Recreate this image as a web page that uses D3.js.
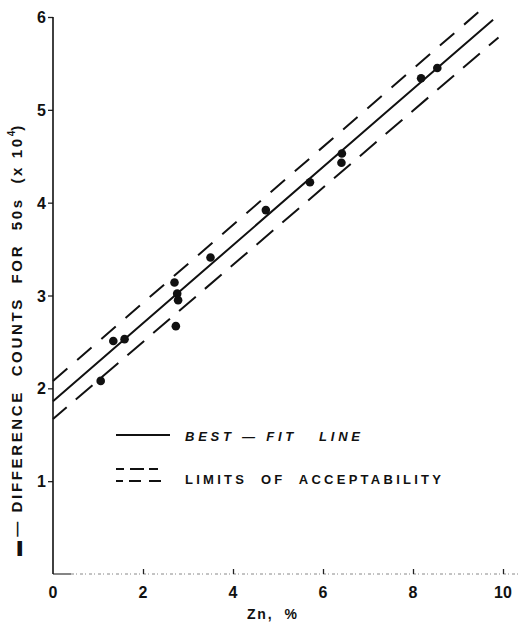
<!DOCTYPE html>
<html>
<head>
<meta charset="utf-8">
<script src="https://cdn.jsdelivr.net/npm/d3@7"></script>
<style>
  html, body { margin: 0; padding: 0; background: #fff; }
  svg { display: block; }
  text { font-family: "Liberation Sans", Arial, sans-serif; fill: #111; white-space: pre; }
</style>
</head>
<body>
<svg id="chart" width="521" height="631"></svg>
<script>
// Zn content (%) of each measured sample
const znPercent = [1.06, 1.34, 1.59, 2.70, 2.76, 2.78, 2.73, 3.50, 4.73, 5.71, 6.42, 6.41, 8.18, 8.54];
// Difference counts for 50 s, in units of 10^4
const diffCounts = [2.08, 2.51, 2.53, 3.14, 3.02, 2.95, 2.67, 3.41, 3.92, 4.22, 4.53, 4.43, 5.34, 5.45];

// Best-fit line and limits of acceptability, as [Zn %, counts] vertices
const bestFit = [[0, 1.86], [7.3, 4.93], [9.78, 5.97]];
const upperLimit = [[0, 2.08], [9.45, 6.05]];
const lowerLimit = [[0, 1.67], [9.9, 5.78]];

const xTicks = [0, 2, 4, 6, 8, 10];
const yTicks = [1, 2, 3, 4, 5, 6];

const legendLabels = ["BEST \u2014 FIT   LINE", "LIMITS  OF  ACCEPTABILITY"];

const svg = d3.select("#chart");

const x = d3.scaleLinear().domain([0, 10]).range([53, 503]);
const y = d3.scaleLinear().domain([0, 6]).range([574, 17]);

// x axis: faint dotted baseline running past 10, small upward ticks
svg.append("line")
  .attr("x1", x(0)).attr("x2", x(0.4))
  .attr("y1", y(0)).attr("y2", y(0))
  .attr("stroke", "#333").attr("stroke-width", 1.2);
svg.append("line")
  .attr("x1", x(0.4)).attr("x2", x(10.4))
  .attr("y1", y(0)).attr("y2", y(0))
  .attr("stroke", "#888").attr("stroke-width", 1)
  .attr("stroke-dasharray", "3,2,1,3");

const xAxis = d3.axisTop(x).tickValues(xTicks).tickSize(5).tickFormat("");
const gx = svg.append("g").attr("transform", `translate(0,${y(0)})`).call(xAxis);
gx.select(".domain").remove();
gx.selectAll(".tick line").attr("stroke", "#222").attr("stroke-width", 1.3)
  .filter(d => d === 0).remove();

svg.append("g").selectAll("text").data(xTicks).join("text")
  .attr("x", d => x(d)).attr("y", 598)
  .attr("text-anchor", "middle")
  .attr("font-size", 16).attr("font-weight", "bold")
  .text(d => d);

// y axis: solid spine with short left stubs
const yAxis = d3.axisLeft(y).tickValues(yTicks).tickSize(5).tickFormat("");
const gy = svg.append("g").attr("transform", `translate(${x(0)},0)`).call(yAxis);
gy.select(".domain").remove();
gy.selectAll(".tick line").attr("stroke", "#222").attr("stroke-width", 1.3);
svg.append("line")
  .attr("x1", x(0)).attr("x2", x(0))
  .attr("y1", y(6)).attr("y2", y(0))
  .attr("stroke", "#111").attr("stroke-width", 1.6);

svg.append("g").selectAll("text").data(yTicks).join("text")
  .attr("x", 46).attr("y", d => y(d) + 6)
  .attr("text-anchor", "end")
  .attr("font-size", 16).attr("font-weight", "bold")
  .text(d => d);

// axis titles
svg.append("text")
  .attr("x", 272).attr("y", 619)
  .attr("text-anchor", "middle")
  .attr("font-size", 14).attr("font-weight", "bold")
  .attr("textLength", 50).attr("lengthAdjust", "spacing")
  .text("Zn,  %");

const yTitle = svg.append("text")
  .attr("transform", "translate(22,556) rotate(-90)")
  .attr("font-size", 15).attr("font-weight", "bold");
yTitle.append("tspan").text("\u25AC ");
yTitle.append("tspan")
  .attr("textLength", 398).attr("lengthAdjust", "spacing")
  .text("\u2014 DIFFERENCE  COUNTS  FOR  50s  (x 10");
yTitle.append("tspan").attr("font-size", 10).attr("dy", -7).text("4");
yTitle.append("tspan").attr("dy", 7).text(")");

// fitted line and acceptance limits
const line = d3.line().x(d => x(d[0])).y(d => y(d[1]));

svg.append("path").datum(upperLimit)
  .attr("d", line).attr("fill", "none")
  .attr("stroke", "#111").attr("stroke-width", 2)
  .attr("stroke-dasharray", "19,13");
svg.append("path").datum(lowerLimit)
  .attr("d", line).attr("fill", "none")
  .attr("stroke", "#111").attr("stroke-width", 2)
  .attr("stroke-dasharray", "22,12").attr("stroke-dashoffset", 4);
svg.append("path").datum(bestFit)
  .attr("d", line).attr("fill", "none")
  .attr("stroke", "#111").attr("stroke-width", 2);

// sample points
svg.append("g").selectAll("circle")
  .data(znPercent.map((z, i) => [z, diffCounts[i]]))
  .join("circle")
  .attr("cx", d => x(d[0])).attr("cy", d => y(d[1]))
  .attr("r", 4.3).attr("fill", "#111");

// legend
const lg = svg.append("g");
lg.append("line")
  .attr("x1", 116).attr("x2", 170).attr("y1", 435).attr("y2", 435)
  .attr("stroke", "#111").attr("stroke-width", 2);
lg.append("line")
  .attr("x1", 116).attr("x2", 170).attr("y1", 469).attr("y2", 469)
  .attr("stroke", "#111").attr("stroke-width", 2)
  .attr("stroke-dasharray", "8,6,14,5,9,30");
lg.append("line")
  .attr("x1", 116).attr("x2", 170).attr("y1", 481).attr("y2", 481)
  .attr("stroke", "#111").attr("stroke-width", 2)
  .attr("stroke-dasharray", "7,6,12,8,12,30");

lg.append("text")
  .attr("x", 185).attr("y", 441)
  .attr("font-size", 13).attr("font-weight", "bold").attr("font-style", "italic")
  .attr("textLength", 175).attr("lengthAdjust", "spacing")
  .text(legendLabels[0]);
lg.append("text")
  .attr("x", 185).attr("y", 484)
  .attr("font-size", 13).attr("font-weight", "bold")
  .attr("textLength", 256).attr("lengthAdjust", "spacing")
  .text(legendLabels[1]);
</script>
</body>
</html>
